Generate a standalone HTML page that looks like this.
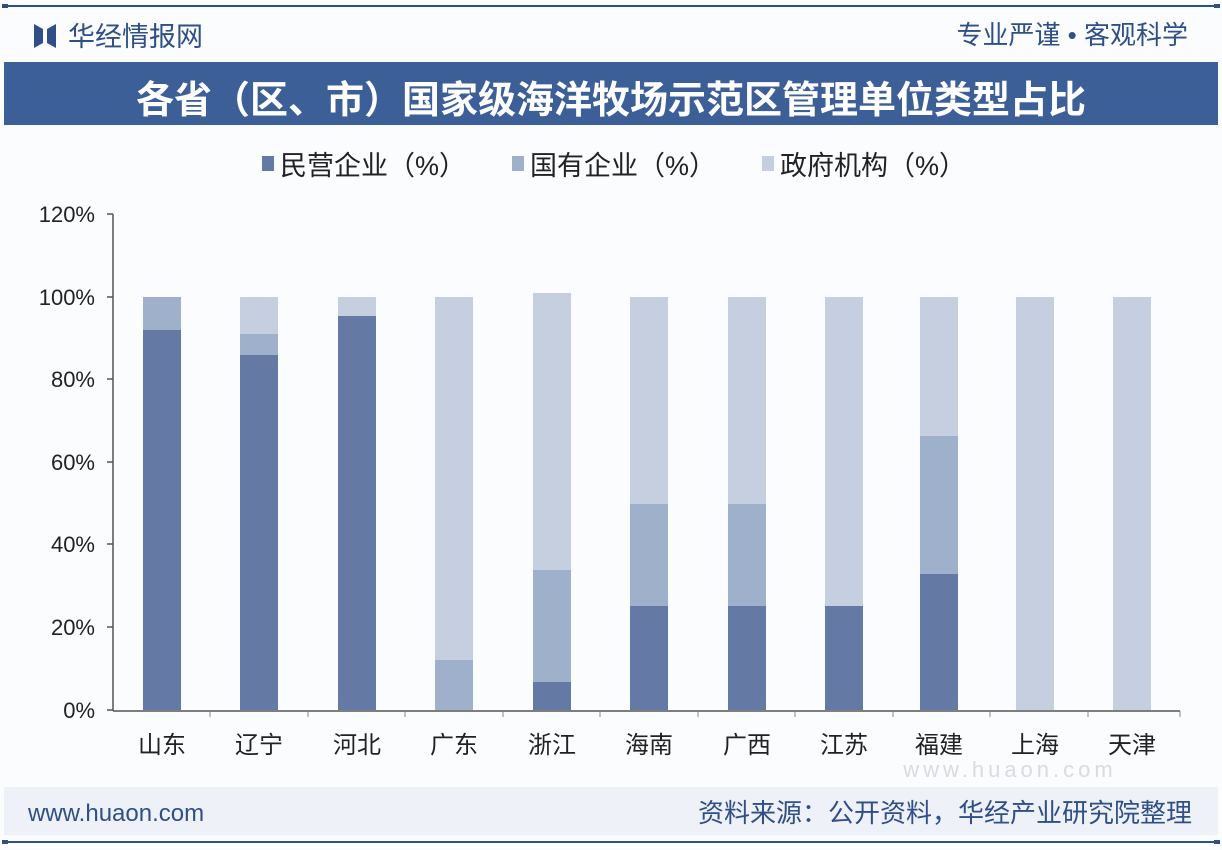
<!DOCTYPE html>
<html><head><meta charset="utf-8"><style>
body{margin:0;width:1222px;height:850px;background:#fbfcfe;overflow:hidden;font-family:"Liberation Sans","Noto Sans CJK SC",sans-serif;}
</style></head><body>
<svg width="1222" height="850" xmlns="http://www.w3.org/2000/svg" style="position:absolute;left:0;top:0">
<rect x="0" y="0" width="1222" height="850" fill="#fbfcfe"/>
<line x1="4" y1="6" x2="1218" y2="6" stroke="#2f4f86" stroke-width="2"/>
<rect x="2" y="4" width="6" height="4" fill="#2f4f86"/><rect x="1214" y="4" width="6" height="4" fill="#2f4f86"/>
<polygon points="34,24 43,29 43,43 34,48" fill="#2f4f86"/><polygon points="47,29 56,24 56,48 47,43" fill="#2f4f86"/>
<text x="68" y="46" font-size="27" fill="#2f4f86" font-family="Liberation Sans,Noto Sans CJK SC,sans-serif">华经情报网</text>
<text x="1188" y="44" font-size="26" fill="#2f4f86" text-anchor="end" font-family="Liberation Sans,Noto Sans CJK SC,sans-serif">专业严谨 • 客观科学</text>
<rect x="4" y="62" width="1214" height="63" fill="#3d5f98"/>
<text x="611" y="113" font-size="38" font-weight="bold" fill="#fff" text-anchor="middle" font-family="Liberation Sans,Noto Sans CJK SC,sans-serif">各省（区、市）国家级海洋牧场示范区管理单位类型占比</text>
<g font-size="27" fill="#222" font-family="Liberation Sans,Noto Sans CJK SC,sans-serif">
<rect x="262" y="156" width="12" height="15" fill="#6479a3"/><text x="280" y="175">民营企业（%）</text>
<rect x="512" y="156" width="12" height="15" fill="#9fb0cb"/><text x="530" y="175">国有企业（%）</text>
<rect x="762" y="156" width="12" height="15" fill="#c5cfe0"/><text x="780" y="175">政府机构（%）</text>
</g>
<g stroke="#555" stroke-width="1.5">
<line x1="113" y1="214" x2="113" y2="711"/>
<line x1="113" y1="711" x2="1180" y2="711"/>
<line x1="107" y1="214" x2="113" y2="214"/><line x1="107" y1="297" x2="113" y2="297"/><line x1="107" y1="379" x2="113" y2="379"/><line x1="107" y1="462" x2="113" y2="462"/><line x1="107" y1="544" x2="113" y2="544"/><line x1="107" y1="627" x2="113" y2="627"/><line x1="107" y1="710" x2="113" y2="710"/>
</g>
<g stroke="#888" stroke-width="1">
<line x1="210" y1="711" x2="210" y2="717"/><line x1="308" y1="711" x2="308" y2="717"/><line x1="405" y1="711" x2="405" y2="717"/><line x1="503" y1="711" x2="503" y2="717"/><line x1="600" y1="711" x2="600" y2="717"/><line x1="698" y1="711" x2="698" y2="717"/><line x1="795" y1="711" x2="795" y2="717"/><line x1="893" y1="711" x2="893" y2="717"/><line x1="990" y1="711" x2="990" y2="717"/><line x1="1088" y1="711" x2="1088" y2="717"/><line x1="1180" y1="711" x2="1180" y2="717"/>
</g>
<g font-size="22" fill="#222" text-anchor="end" font-family="Liberation Sans,sans-serif">
<text x="95" y="222">120%</text><text x="95" y="305">100%</text><text x="95" y="387">80%</text><text x="95" y="470">60%</text><text x="95" y="552">40%</text><text x="95" y="635">20%</text><text x="95" y="718">0%</text>
</g>
<g>
<rect x="143" y="297" width="38" height="33" fill="#9fb0cb"/><rect x="143" y="330" width="38" height="380" fill="#6479a3"/>
<rect x="240" y="297" width="38" height="37" fill="#c5cfe0"/><rect x="240" y="334" width="38" height="21" fill="#9fb0cb"/><rect x="240" y="355" width="38" height="355" fill="#6479a3"/>
<rect x="338" y="297" width="38" height="19" fill="#c5cfe0"/><rect x="338" y="316" width="38" height="394" fill="#6479a3"/>
<rect x="435" y="297" width="38" height="363" fill="#c5cfe0"/><rect x="435" y="660" width="38" height="50" fill="#9fb0cb"/>
<rect x="533" y="293" width="38" height="277" fill="#c5cfe0"/><rect x="533" y="570" width="38" height="112" fill="#9fb0cb"/><rect x="533" y="682" width="38" height="28" fill="#6479a3"/>
<rect x="630" y="297" width="38" height="207" fill="#c5cfe0"/><rect x="630" y="504" width="38" height="102" fill="#9fb0cb"/><rect x="630" y="606" width="38" height="104" fill="#6479a3"/>
<rect x="728" y="297" width="38" height="207" fill="#c5cfe0"/><rect x="728" y="504" width="38" height="102" fill="#9fb0cb"/><rect x="728" y="606" width="38" height="104" fill="#6479a3"/>
<rect x="825" y="297" width="38" height="309" fill="#c5cfe0"/><rect x="825" y="606" width="38" height="104" fill="#6479a3"/>
<rect x="920" y="297" width="38" height="139" fill="#c5cfe0"/><rect x="920" y="436" width="38" height="138" fill="#9fb0cb"/><rect x="920" y="574" width="38" height="136" fill="#6479a3"/>
<rect x="1016" y="297" width="38" height="413" fill="#c5cfe0"/>
<rect x="1113" y="297" width="38" height="413" fill="#c5cfe0"/>
</g>
<g font-size="24" fill="#222" text-anchor="middle" font-family="Liberation Sans,Noto Sans CJK SC,sans-serif">
<text x="162" y="753">山东</text><text x="259" y="753">辽宁</text><text x="357" y="753">河北</text><text x="454" y="753">广东</text><text x="552" y="753">浙江</text><text x="649" y="753">海南</text><text x="747" y="753">广西</text><text x="844" y="753">江苏</text><text x="939" y="753">福建</text><text x="1035" y="753">上海</text><text x="1132" y="753">天津</text>
</g>
<text x="1010" y="777" font-size="22" fill="#d8dbe2" text-anchor="middle" font-family="Liberation Sans,sans-serif" letter-spacing="4">www.huaon.com</text>
<rect x="4" y="787" width="1214" height="48" fill="#eef1f8"/>
<text x="28" y="821" font-size="24" fill="#2f4f86" font-family="Liberation Sans,sans-serif">www.huaon.com</text>
<text x="1192" y="822" font-size="26" fill="#2f4f86" text-anchor="end" font-family="Liberation Sans,Noto Sans CJK SC,sans-serif">资料来源：公开资料，华经产业研究院整理</text>
<line x1="4" y1="842" x2="1218" y2="842" stroke="#2f4f86" stroke-width="2"/>
<rect x="2" y="840" width="6" height="4" fill="#2f4f86"/><rect x="1214" y="840" width="6" height="4" fill="#2f4f86"/>
</svg>
</body></html>
